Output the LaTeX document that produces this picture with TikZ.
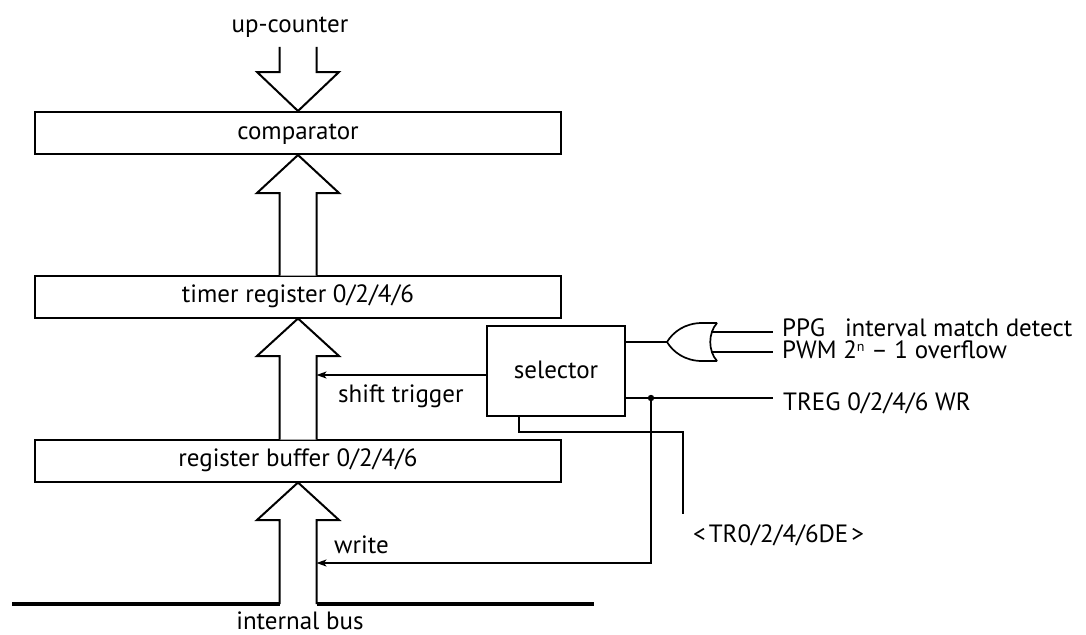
\documentclass[tikz,border=0pt]{standalone}
\usepackage{fontspec}
\setmainfont{PT Sans}
\usetikzlibrary{arrows.meta,calc}
\begin{document}
\begin{tikzpicture}[x=1pt,y=-1pt,
  lbl/.style={font=\fontsize{25}{29}\selectfont, inner sep=0pt},
  regbox/.style={draw, line width=2pt, minimum width=526pt, minimum height=42pt, inner sep=0pt,
    font=\fontsize{25}{29}\selectfont, text height=12.5pt, text depth=0pt},
  selbox/.style={draw, line width=2pt, minimum width=138pt, minimum height=90pt, inner sep=0pt,
    font=\fontsize{25}{29}\selectfont, text height=14pt, text depth=0pt},
  blk/.style={draw, line width=2pt, fill=white, line join=miter},
  sig/.style={line width=1.6pt},
  gate/.style={line width=1.7pt},
  bus/.style={line width=4pt},
  tipped/.style={-{Stealth[length=10pt,width=7pt,inset=2.5pt]}}
]
\useasboundingbox (0,0) rectangle (1086,634);

% boxes
\node[regbox] (cmp) at (298,133) {comparator};
\node[regbox] (tmr) at (298,296.5) {timer register 0/2/4/6};
\node[regbox] (buf) at (298,460.5) {register buffer 0/2/4/6};
\node[selbox] (sel) at (556,371) {selector};

% block arrows
\draw[blk] (279.5,47) -- (279.5,72) -- (257,72) -- (cmp.north) -- (339,72) -- (316.5,72) -- (316.5,47);
\draw[blk] (279.5,275.5) -- (279.5,193) -- (257,193) -- (cmp.south) -- (339,193) -- (316.5,193) -- (316.5,275.5);
\draw[blk] (279.5,439.5) -- (279.5,356) -- (257,356) -- (tmr.south) -- (339,356) -- (316.5,356) -- (316.5,439.5);
\draw[blk] (279.5,604) -- (279.5,520) -- (257,520) -- (buf.south) -- (339,520) -- (316.5,520) -- (316.5,604);

% internal bus
\coordinate (busL) at (12,604);
\coordinate (busR) at (594,604);
\draw[bus] (busL) -- (279.5,604);
\draw[bus] (316.5,604) -- (busR);

% OR gate
\coordinate (gout) at (667,342);
\draw[gate] (717,323) -- (702,323) .. controls (685,323) and (673,332) .. (gout)
  .. controls (673,352) and (685,361) .. (702,361) -- (717,361);
\draw[gate] (717,323) .. controls (708,333) and (708,351) .. (717,361);
\draw[sig] (sel.east |- gout) -- (gout);
\draw[sig] (711,332) -- (773,332);
\draw[sig] (711,352) -- (773,352);

% shift trigger
\draw[sig,tipped] ($(sel.west)+(0,4)$) -- (316.5,375);

% TREG WR and write
\coordinate (dot) at (651,398);
\draw[sig] (sel.east |- dot) -- (773,398);
\fill (dot) circle (3.2pt);
\draw[sig,tipped] (dot) |- (316.5,563);

% DE enable
\coordinate (deEnd) at (683,514);
\draw[sig] (519,416) -- (519,432) -| (deEnd);

% labels
\node[lbl, anchor=base] (uc) at (290,33) {up-counter};
\node[lbl, anchor=base west] (st) at (338,402) {shift trigger};
\node[lbl, anchor=base west] (wr) at (334,553) {write};
\node[lbl, anchor=base] (ib) at (300,629) {internal bus};
\node[lbl, anchor=base west] (ppg) at (782,336.5) {PPG\hspace{20pt}interval match detect};
\node[lbl, anchor=base west] (pwm) at (782,358) {PWM 2\raisebox{7pt}{\fontsize{14}{14}\selectfont n} – 1 overflow};
\node[lbl, anchor=base west] (treg) at (783,410) {TREG 0/2/4/6 WR};
\node[lbl, anchor=base west] (de) at (693,542) {<\hspace{3pt}TR0/2/4/6DE\hspace{3pt}>};
\end{tikzpicture}
\end{document}
